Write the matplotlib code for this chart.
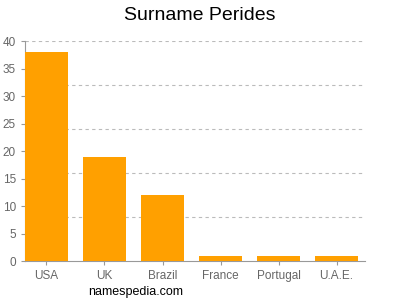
import matplotlib

matplotlib.use("Agg")
import matplotlib.pyplot as plt

countries = ["USA", "UK", "Brazil", "France", "Portugal", "U.A.E."]
counts = [38, 19, 12, 1, 1, 1]
yticks = [0, 5, 10, 15, 20, 25, 30, 35, 40]
gridlines = [8, 16, 24, 32, 40]

plt.rcParams["font.family"] = ["Liberation Sans", "DejaVu Sans"]

fig = plt.figure(figsize=(4, 3), dpi=100)
ax = fig.add_axes([0.0625, 0.13, 0.85, 0.733])

xs = list(range(len(countries)))
ax.bar(xs, counts, width=0.74, color="#ffa000", zorder=3)
for g in gridlines:
    ax.axhline(g, color="#bbbbbb", lw=0.8, ls=(0, (3, 3)), zorder=1)

ax.set_xlim(-0.37, 5.49)
ax.set_ylim(0, 40)
ax.set_xticks(xs)
ax.set_xticklabels(countries)
ax.set_yticks(yticks)
ax.tick_params(colors="#999999", labelcolor="#666666", labelsize=8.5, length=3, width=0.8)
for side in ["top", "right"]:
    ax.spines[side].set_visible(False)
for side in ["left", "bottom"]:
    ax.spines[side].set_color("#999999")
    ax.spines[side].set_linewidth(0.8)

fig.text(0.5, 0.95, "Surname Perides", ha="center", va="center", fontsize=14)
fig.text(0.22, 0.027, "namespedia.com", ha="left", va="center", fontsize=9)

fig.savefig("out.png", dpi=100)
